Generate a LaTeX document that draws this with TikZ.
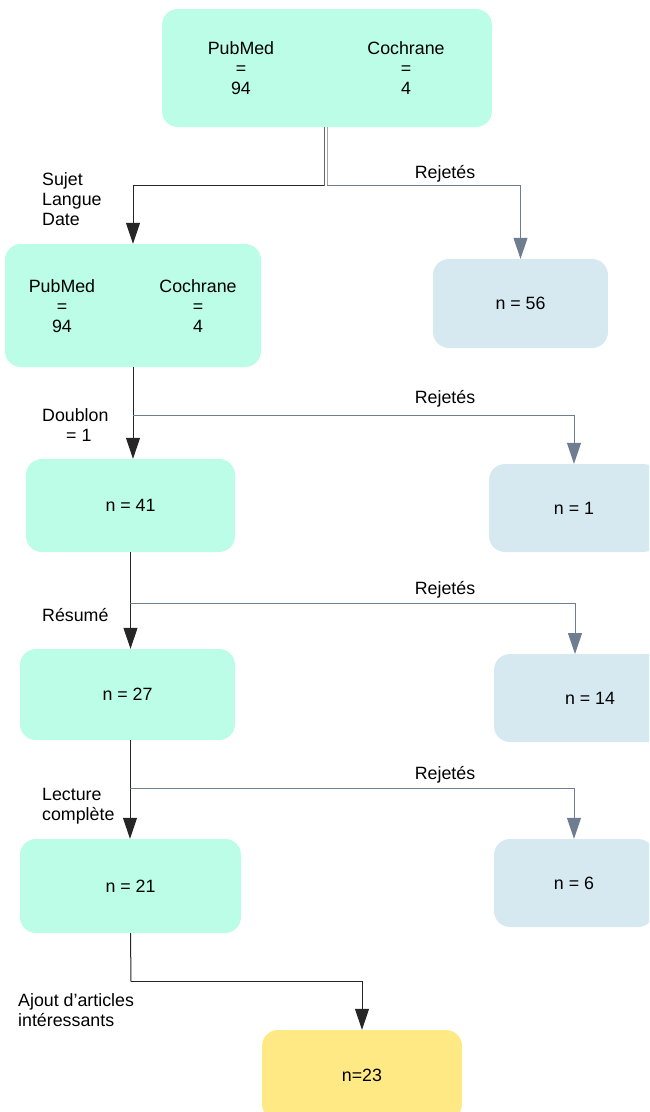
\documentclass[tikz,border=0pt]{standalone}
\usepackage{fontspec}
\setmainfont{Liberation Sans}
\usetikzlibrary{arrows.meta}
\definecolor{mint}{RGB}{187,253,230}
\definecolor{pale}{RGB}{214,233,240}
\definecolor{gold}{RGB}{255,233,133}
\definecolor{rejline}{RGB}{140,150,165}
\definecolor{rejtip}{RGB}{110,125,143}
\tikzset{
  box/.style={rounded corners=16pt, inner sep=0pt},
  keep/.style={box, fill=mint},
  drop/.style={box, fill=pale},
  final/.style={box, fill=gold},
  txt/.style={inner sep=0pt, align=center},
  lbl/.style={inner sep=0pt, anchor=west, align=left},
  mainline/.style={draw=black!85, line width=1pt},
  mainarrow/.style={mainline, -{Triangle[width=14pt,length=21pt]}},
  rejarrow/.style={draw=rejline, line width=1pt, -{Triangle[width=14pt,length=21pt,fill=rejtip]}, rejtip},
}
\begin{document}
\begin{tikzpicture}[x=1pt,y=-1pt, font=\fontsize{17.8}{20}\selectfont]
\useasboundingbox (0,0) rectangle (649,1112);
\clip (0,0) rectangle (649,1112);
% boxes
\node[keep, minimum width=330pt, minimum height=118pt] (top) at (327,68) {};
\node[txt] (topP) at (241,68) {PubMed\\=\\94};
\node[txt] (topC) at (406,68) {Cochrane\\=\\4};
\node[keep, minimum width=256pt, minimum height=123pt] (b2) at (133,305.5) {};
\node[txt] (b2P) at (62,306) {PubMed\\=\\94};
\node[txt] (b2C) at (198,306) {Cochrane\\=\\4};
\node[drop, minimum width=175pt, minimum height=89pt] (r1) at (520.5,303.5) {n = 56};
\node[keep, minimum width=209pt, minimum height=93pt] (b41) at (130.5,505.5) {n = 41};
\node[drop, minimum width=170pt, minimum height=88pt] (r2) at (574,508) {n = 1};
\node[keep, minimum width=215pt, minimum height=91pt] (b27) at (127.5,694.5) {n = 27};
\node[drop, minimum width=192pt, minimum height=88pt] (r3) at (590,698) {n = 14};
\node[keep, minimum width=221pt, minimum height=94pt] (b21) at (130.5,886) {n = 21};
\node[drop, minimum width=160pt, minimum height=88pt] (r4) at (574,883) {n = 6};
\node[final, minimum width=200pt, minimum height=90pt] (fin) at (362,1075) {n=23};
% junctions
\coordinate (j1) at (327,185.5);
\coordinate (j2) at (133,415.5);
\coordinate (j3) at (130,603.5);
\coordinate (j4) at (130,788.5);
\coordinate (j5) at (131,981.5);
\coordinate (r3in) at (575,654);
% connectors
\draw[draw=black!60, line width=1pt] ([xshift=-3pt]top.south) -- ([xshift=-3pt]j1);
\draw[draw=black!35, line width=1pt] (top.south) -- (j1);
\draw[mainarrow] ([xshift=-3pt]j1) -| (b2.north);
\draw[rejarrow] (j1) -| (r1.north);
\draw[mainarrow] (b2.south) -- (b2.south |- b41.north);
\draw[rejarrow] (j2) -| (r2.north);
\draw[mainarrow] (b41.south) -- (b41.south |- b27.north);
\draw[rejarrow] (j3) -| (r3in);
\draw[mainarrow] (b27.south -| j4) -- (j4 |- b21.north);
\draw[rejarrow] (j4) -| (r4.north);
\draw[mainline] (b21.south) -- (j5);
\draw[mainarrow] (j5) -| (fin.north);
% labels
\node[txt] (rj1) at (445,174) {Rejetés};
\node[txt] (rj2) at (445,399) {Rejetés};
\node[txt] (rj3) at (445,590) {Rejetés};
\node[txt] (rj4) at (445,775) {Rejetés};
\node[lbl] (l1) at (42,199) {Sujet\\Langue\\Date};
\node[lbl] (l2) at (42,425) {Doublon\\\hspace*{24pt}= 1};
\node[lbl] (l3) at (42,615) {Résumé};
\node[lbl] (l4) at (42,806) {Lecture\\complète};
\node[lbl] (l5) at (18,1010) {Ajout d’articles\\intéressants};
\end{tikzpicture}
\end{document}
